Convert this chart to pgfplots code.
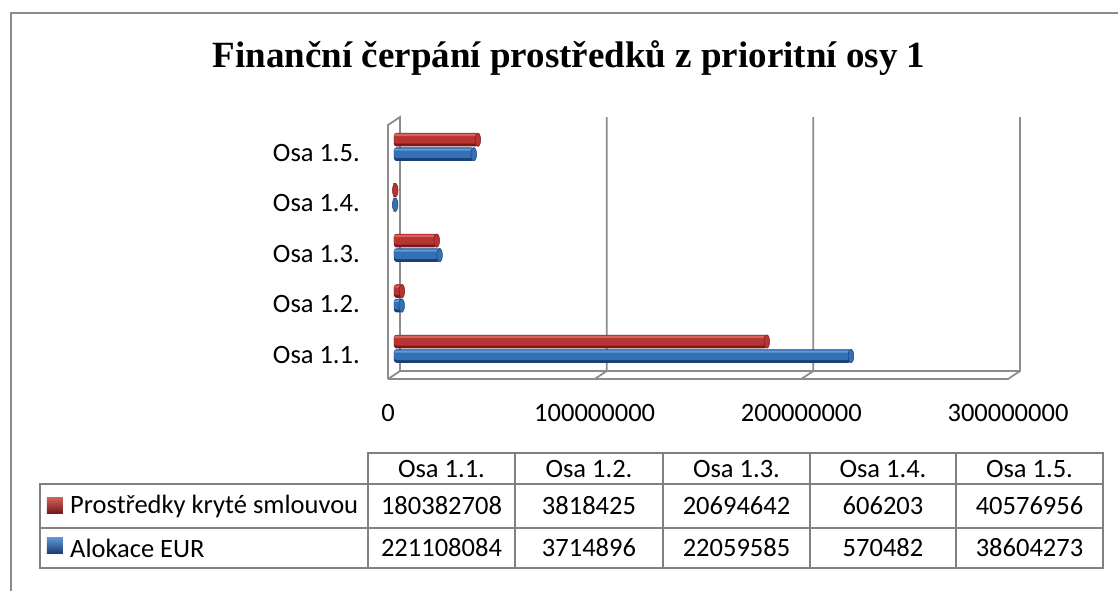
\documentclass[border=0pt]{standalone}
\usepackage{pgfplots}
\usepackage{pgfplotstable}
\pgfplotsset{compat=1.18}
\usepackage{fontspec}
\setmainfont{Carlito}
\newfontfamily\titlefont{Liberation Serif}
\definecolor{frameC}{RGB}{140,140,140}
\definecolor{tabC}{RGB}{128,128,128}
\definecolor{redT}{RGB}{212,98,94}
\definecolor{redM}{RGB}{184,52,50}
\definecolor{redB}{RGB}{118,26,26}
\definecolor{blueT}{RGB}{98,152,214}
\definecolor{blueM}{RGB}{52,112,182}
\definecolor{blueB}{RGB}{26,62,118}
\pgfdeclareplotmark{cap}{\pgfpathellipse{\pgfpointorigin}{\pgfpoint{2.8pt}{0pt}}{\pgfpoint{0pt}{6.7pt}}\pgfusepathqfillstroke}
\pgfplotstableread{
cat alok prost
1 221108084 180382708
2 3714896 3818425
3 22059585 20694642
4 570482 606203
5 38604273 40576956
}\datatable
\begin{document}
\begin{tikzpicture}[x=1pt,y=1pt]
\begin{axis}[
  anchor=south west,
  width=620pt, height=254pt, scale only axis,
  xmin=0, xmax=300000000, ymin=0.4796, ymax=5.515,
  axis line style={draw=none}, tick style={draw=none},
  xtick={0,100000000,200000000,300000000},
  xticklabels={0,100000000,200000000,300000000},
  xticklabel style={anchor=center, xshift=-6pt, yshift=-38pt, font=\fontsize{26.5}{30}\selectfont},
  ytick={1,2,3,4,5},
  yticklabels={Osa 1.1.,Osa 1.2.,Osa 1.3.,Osa 1.4.,Osa 1.5.},
  yticklabel style={anchor=east, inner sep=0pt, xshift=-34pt, yshift=-6pt, font=\fontsize{26.5}{30}\selectfont},
  scaled x ticks=false,
  clip=false,
  every axis plot/.append style={draw=none},
]
% 3D frame: front plane shift (-6,-4), back plane shift (6,4)
\draw[frameC, line width=1.8pt] ([shift={(-6pt,-4pt)}]rel axis cs:0,0) -- ([shift={(-6pt,-4pt)}]rel axis cs:0,1) -- ([shift={(6pt,4pt)}]rel axis cs:0,1) -- ([shift={(6pt,4pt)}]rel axis cs:0,0) -- ([shift={(6pt,4pt)}]rel axis cs:1,0) -- ([shift={(6pt,4pt)}]rel axis cs:1,1);
\draw[frameC, line width=1.8pt] ([shift={(-6pt,-4pt)}]rel axis cs:0,0) -- ([shift={(6pt,4pt)}]rel axis cs:0,0);
\draw[frameC, line width=1.8pt] ([shift={(-6pt,-4pt)}]rel axis cs:0,0) -- ([shift={(-6pt,-4pt)}]rel axis cs:1,0) -- ([shift={(6pt,4pt)}]rel axis cs:1,0);
\draw[frameC, line width=1.8pt] ([shift={(6pt,4pt)}]rel axis cs:0.33333,1) -- ([shift={(6pt,4pt)}]rel axis cs:0.33333,0) -- ([shift={(-6pt,-4pt)}]rel axis cs:0.33333,0);
\draw[frameC, line width=1.8pt] ([shift={(6pt,4pt)}]rel axis cs:0.66667,1) -- ([shift={(6pt,4pt)}]rel axis cs:0.66667,0) -- ([shift={(-6pt,-4pt)}]rel axis cs:0.66667,0);
% blue bars (Alokace EUR), centre shift -7.25pt
\addplot[xbar, bar width=13.5pt, bar shift=-7.25pt, fill=blueB, rounded corners=2.5pt] table[x=alok, y=cat] {\datatable};
\addplot[xbar, bar width=10.5pt, bar shift=-6pt, fill=blueM, rounded corners=2.5pt] table[x=alok, y=cat] {\datatable};
\addplot[xbar, bar width=2pt, bar shift=-2.75pt, fill=blueT, rounded corners=1pt] table[x=alok, y=cat] {\datatable};
\addplot[only marks, mark=cap, mark options={fill=blueM, draw=blueB, line width=0.5pt, yshift=-7.25pt}] table[x=alok, y=cat] {\datatable};
% red bars (Prostredky), centre shift +7.25pt
\addplot[xbar, bar width=13.5pt, bar shift=7.25pt, fill=redB, rounded corners=2.5pt] table[x=prost, y=cat] {\datatable};
\addplot[xbar, bar width=10.5pt, bar shift=8.5pt, fill=redM, rounded corners=2.5pt] table[x=prost, y=cat] {\datatable};
\addplot[xbar, bar width=2pt, bar shift=11.75pt, fill=redT, rounded corners=1pt] table[x=prost, y=cat] {\datatable};
\addplot[only marks, mark=cap, mark options={fill=redM, draw=redB, line width=0.5pt, yshift=7.25pt}] table[x=prost, y=cat] {\datatable};
\end{axis}
\begin{scope}[shift={(-394pt,-215pt)}]
\path[use as bounding box] (0,0) rectangle (1118,590);
% outer frame
\draw[frameC, line width=2.2pt] (11,-10) -- (11,577) -- (1130,577);
% title
\node[font=\titlefont\bfseries\fontsize{37}{42}\selectfont] at (569,532) {Finanční čerpání prostředků z prioritní osy 1};
% data table
\begin{scope}[tabC, line width=1.8pt]
\draw (368,137) rectangle (1103,22);
\draw (40,106) rectangle (1103,22);
\draw (40,62) -- (1103,62);
\foreach \xx in {515,663,810,956} \draw (\xx,137) -- (\xx,22);
\end{scope}
\begin{scope}[font=\fontsize{26.5}{30}\selectfont, text=black]
\foreach \xx/\tt in {441.5/{Osa 1.1.},589/{Osa 1.2.},736.5/{Osa 1.3.},883/{Osa 1.4.},1029.5/{Osa 1.5.}} \node at (\xx,121) {\tt};
\foreach \xx/\tt in {441.5/180382708,589/3818425,736.5/20694642,883/606203,1029.5/40576956} \node at (\xx,84) {\tt};
\foreach \xx/\tt in {441.5/221108084,589/3714896,736.5/22059585,883/570482,1029.5/38604273} \node at (\xx,42) {\tt};
\node[anchor=west, inner sep=0pt] at (70,84) {Prostředky kryté smlouvou};
\node[anchor=west, inner sep=0pt] at (70,42) {Alokace EUR};
\end{scope}
\shade[top color=redT, bottom color=redB] (47,93) rectangle (63,77);
\shade[top color=blueT, bottom color=blueB] (47,53) rectangle (63,37);
\end{scope}
\end{tikzpicture}
\end{document}
